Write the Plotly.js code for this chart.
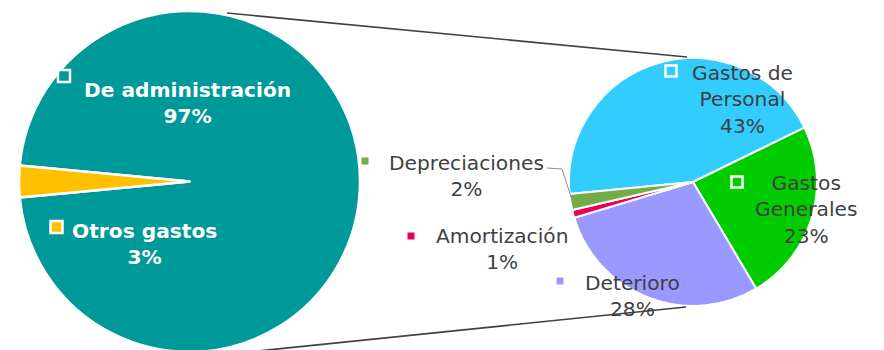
<!DOCTYPE html>
<html>
<head>
<meta charset="utf-8">
<script src="https://cdn.plot.ly/plotly-3.0.1.min.js"></script>
<style>
html,body{margin:0;padding:0;background:#fff;overflow:hidden;}
#chart{width:884px;height:360px;}
</style>
</head>
<body>
<div id="chart"></div>
<script>
// ---- data ----
const mainLabels = ['De administración', 'Otros gastos'];
const mainValues = [97, 3];
const mainPctText = ['97%', '3%'];

const subLabels = ['Gastos de Personal', 'Gastos Generales', 'Deterioro', 'Amortización', 'Depreciaciones'];
const subLabelLines = ['Gastos de<br>Personal', 'Gastos<br>Generales', 'Deterioro', 'Amortización', 'Depreciaciones'];
const subValues = [43, 23, 28, 1, 2];
const subPctText = ['43%', '23%', '28%', '1%', '2%'];

// ---- styles ----
const mainColors = ['#009999', '#FFC000'];
const subColors = ['#33CCFF', '#00CC00', '#9999FF', '#E8005A', '#70AD47'];

const W = 884, H = 360;
const px = x => x / W;
const py = y => 1 - y / H;

const traces = [
  {
    type: 'pie', labels: mainLabels, values: mainValues, sort: false,
    direction: 'clockwise', rotation: -84.6,
    marker: {colors: mainColors, line: {color: '#ffffff', width: 2.5}},
    textinfo: 'none', hoverinfo: 'label+text', text: mainPctText, showlegend: false,
    domain: {x: [px(19), px(360)], y: [py(352), py(11)]}
  },
  {
    type: 'pie', labels: subLabels, values: subValues, sort: false,
    direction: 'clockwise', rotation: -95.6,
    marker: {colors: subColors, line: {color: '#ffffff', width: 2}},
    textinfo: 'none', hoverinfo: 'label+text', text: subPctText, showlegend: false,
    domain: {x: [px(569), px(817)], y: [py(306), py(58)]}
  }
];

// label placement (pixel positions)
const mainLabelPos = [[187, 103.5], [144, 243.5]];
const mainKeyPos = [[64, 76, 12, true], [56.5, 227, 12, true]];
const subLabelPos = [[742, 99], [806, 209], [632, 295.5], [502, 249], [466, 175.5]];
const subKeyPos = [[671, 71, 11, true], [737, 182, 11, true], [560, 281, 7, false], [411, 236, 7, false], [365, 161, 7, false]];

const annotations = [];
const shapes = [];
const family = 'DejaVu Sans, Verdana, sans-serif';

mainLabels.forEach((lab, i) => {
  annotations.push({
    xref: 'paper', yref: 'paper', x: px(mainLabelPos[i][0]), y: py(mainLabelPos[i][1]),
    xanchor: 'center', yanchor: 'middle', showarrow: false, align: 'center',
    text: '<b>' + lab + '<br>' + mainPctText[i] + '</b>',
    font: {family: family, size: 20.2, color: '#ffffff'}
  });
});
subLabels.forEach((lab, i) => {
  annotations.push({
    xref: 'paper', yref: 'paper', x: px(subLabelPos[i][0]), y: py(subLabelPos[i][1]),
    xanchor: 'center', yanchor: 'middle', showarrow: false, align: 'center',
    text: subLabelLines[i] + '<br>' + subPctText[i],
    font: {family: family, size: 20.2, color: '#3f3f3f'}
  });
});

function keyRect(p, color) {
  const [cx, cy, s, bordered] = p;
  shapes.push({
    type: 'rect', xref: 'paper', yref: 'paper',
    x0: px(cx - s / 2), x1: px(cx + s / 2), y0: py(cy + s / 2), y1: py(cy - s / 2),
    fillcolor: color, line: {color: '#ffffff', width: bordered ? 2.5 : 0}
  });
}
mainKeyPos.forEach((p, i) => keyRect(p, mainColors[i]));
subKeyPos.forEach((p, i) => keyRect(p, subColors[i]));

// connector lines between the pies
shapes.push({type: 'line', xref: 'paper', yref: 'paper', x0: px(227), y0: py(13), x1: px(687), y1: py(57),
  line: {color: '#404040', width: 1.6}});
shapes.push({type: 'line', xref: 'paper', yref: 'paper', x0: px(238), y0: py(353), x1: px(686), y1: py(307),
  line: {color: '#404040', width: 1.6}});
// leader line for Depreciaciones
shapes.push({type: 'path', xref: 'paper', yref: 'paper',
  path: 'M ' + px(547) + ' ' + py(168) + ' L ' + px(562) + ' ' + py(169) + ' L ' + px(573) + ' ' + py(203),
  line: {color: '#8c8c8c', width: 1}});

const layout = {
  width: W, height: H,
  margin: {l: 0, r: 0, t: 0, b: 0},
  paper_bgcolor: '#ffffff', plot_bgcolor: '#ffffff',
  showlegend: false,
  annotations: annotations,
  shapes: shapes
};

Plotly.newPlot('chart', traces, layout, {displayModeBar: false, staticPlot: true});
</script>
</body>
</html>
